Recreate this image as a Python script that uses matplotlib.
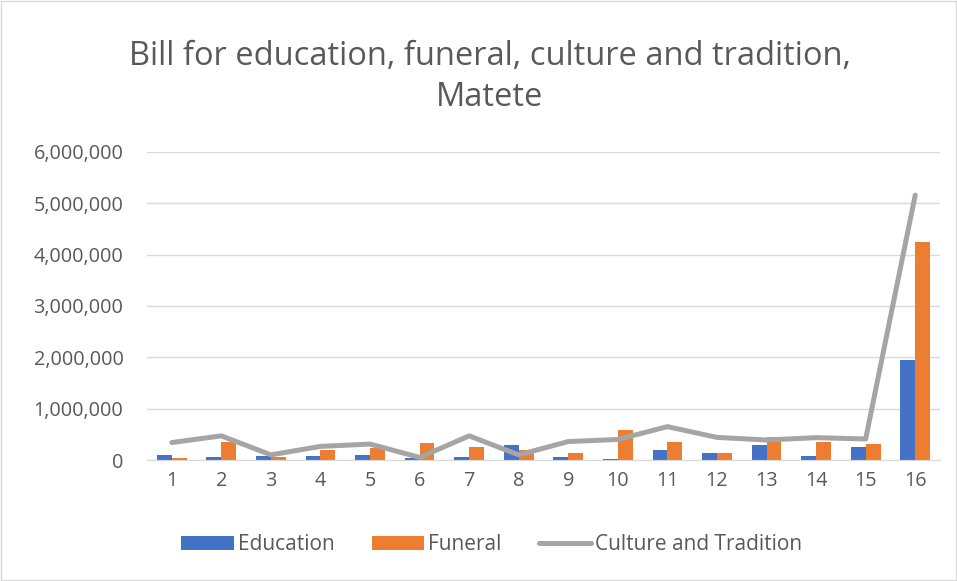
import matplotlib
matplotlib.use("Agg")
import matplotlib.pyplot as plt
import numpy as np
from matplotlib.ticker import FuncFormatter

categories = [str(i) for i in range(1, 17)]
education = [100000, 60000, 85000, 85000, 90000, 30000, 60000, 300000, 60000, 25000,
             195000, 140000, 285000, 85000, 250000, 1940000]
funeral = [40000, 360000, 65000, 200000, 225000, 340000, 250000, 190000, 135000, 590000,
           345000, 140000, 455000, 345000, 305000, 4250000]
culture = [340000, 470000, 100000, 265000, 310000, 50000, 470000, 100000, 360000, 400000,
           650000, 440000, 390000, 435000, 410000, 5160000]

plt.rcParams['font.family'] = ['Open Sans', 'DejaVu Sans']
fig = plt.figure(figsize=(9.57, 5.81), dpi=100)
ax = fig.add_axes([147/957, 1-460/581, (940-147)/957, (460-152)/581])

x = np.arange(len(categories))
w = 0.3
h1 = ax.bar(x - w/2, education, w, color='#4472C4', label='Education', zorder=2)
h2 = ax.bar(x + w/2, funeral, w, color='#ED7D31', label='Funeral', zorder=2)
h3, = ax.plot(x, culture, color='#A5A5A5', lw=3.6, label='Culture and Tradition', zorder=3,
              solid_joinstyle='round', solid_capstyle='round')

ax.set_xlim(-0.5, len(categories) - 0.5)
ax.set_ylim(0, 6000000)
ax.set_yticks(np.arange(0, 6000001, 1000000))
ax.yaxis.set_major_formatter(FuncFormatter(lambda v, p: f"{int(v):,}"))
ax.set_xticks(x)
ax.set_xticklabels(categories)
ax.grid(axis='y', color='#D9D9D9', lw=1, zorder=0)
for s in ['top', 'right', 'left']:
    ax.spines[s].set_visible(False)
ax.spines['bottom'].set_color('#D9D9D9')
ax.tick_params(axis='both', length=0, labelsize=14.3, colors='#595959', pad=8)
ax.tick_params(axis='y', pad=17)

fig.text(490/957, 1-77/581, "Bill for education, funeral, culture and tradition,\nMatete",
         ha='center', va='center', fontsize=23.5, color='#595959', linespacing=1.3)

fig.legend(handles=[h1, h2, h3], loc='center', bbox_to_anchor=(492/957, 1-545/581), ncol=3,
           frameon=False, fontsize=15, labelcolor='#595959', handlelength=2.5,
           handleheight=0.67, handletextpad=0.2, columnspacing=1.8)

fig.patches.append(matplotlib.patches.Rectangle((0.001, 0.001), 0.998, 0.998,
                   transform=fig.transFigure, fill=False, edgecolor='#D9D9D9', lw=1))
fig.savefig('out.png', dpi=100)
